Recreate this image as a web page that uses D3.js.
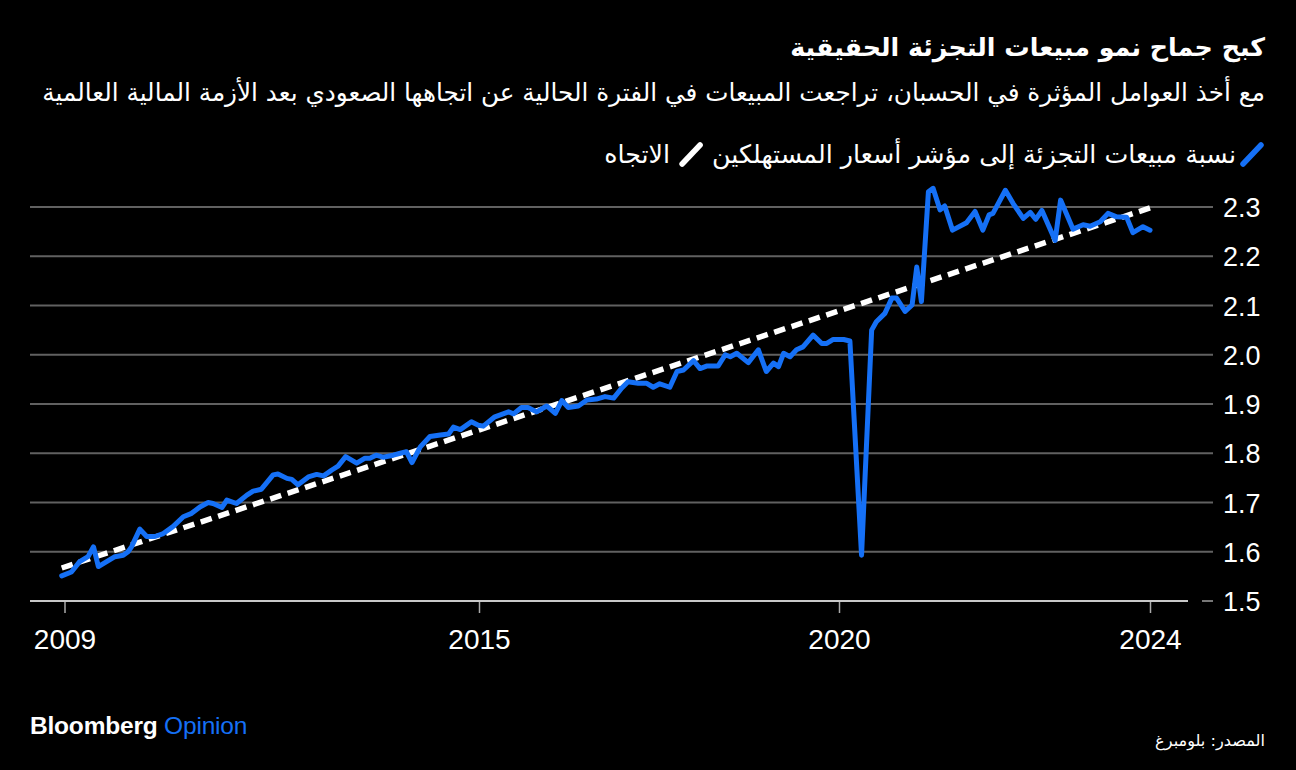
<!DOCTYPE html>
<html lang="ar">
<head>
<meta charset="utf-8">
<script src="https://cdn.jsdelivr.net/npm/d3@7/dist/d3.min.js"></script>
<style>
  html, body { margin: 0; padding: 0; background: #000; }
  svg { display: block; }
</style>
</head>
<body>
<svg id="chart" width="1296" height="770"></svg>
<script>
// ---------------- data ----------------
const titleText = "كبح جماح نمو مبيعات التجزئة الحقيقية";
const subtitleText = "مع أخذ العوامل المؤثرة في الحسبان، تراجعت المبيعات في الفترة الحالية عن اتجاهها الصعودي بعد الأزمة المالية العالمية";
const seriesNames = ["نسبة مبيعات التجزئة إلى مؤشر أسعار المستهلكين", "الاتجاه"];
const sourceText = "المصدر: بلومبرغ";

const xTickValues = [2009, 2015, 2020, 2024];
const yTickValues = [1.5, 1.6, 1.7, 1.8, 1.9, 2.0, 2.1, 2.2, 2.3];

const years = [2008.96, 2009.10, 2009.22, 2009.34, 2009.42, 2009.49, 2009.61, 2009.73, 2009.85, 2009.92, 2009.97,
  2010.09, 2010.19, 2010.31, 2010.43, 2010.57, 2010.72, 2010.84, 2010.96, 2011.08, 2011.15, 2011.28, 2011.35,
  2011.49, 2011.64, 2011.73, 2011.85, 2012.02, 2012.09, 2012.22, 2012.29, 2012.38, 2012.53, 2012.65, 2012.75,
  2012.87, 2012.96, 2013.07, 2013.23, 2013.35, 2013.42, 2013.51, 2013.61, 2013.76, 2013.86, 2013.95, 2014.03,
  2014.15, 2014.29, 2014.44, 2014.56, 2014.63, 2014.73, 2014.89, 2014.99, 2015.06, 2015.22, 2015.41, 2015.48,
  2015.59, 2015.68, 2015.80, 2015.94, 2016.06, 2016.15, 2016.24, 2016.38, 2016.50, 2016.63, 2016.75, 2016.87,
  2016.98, 2017.07, 2017.21, 2017.33, 2017.42, 2017.51, 2017.65, 2017.75, 2017.84, 2017.98, 2018.07, 2018.16,
  2018.32, 2018.42, 2018.49, 2018.58, 2018.74, 2018.88, 2018.99, 2019.09, 2019.16, 2019.23, 2019.32, 2019.41,
  2019.50, 2019.64, 2019.76, 2019.83, 2019.92, 2020.06, 2020.14, 2020.29, 2020.42, 2020.48, 2020.59, 2020.68,
  2020.74, 2020.85, 2020.94, 2021.00, 2021.06, 2021.15, 2021.21, 2021.30, 2021.36, 2021.46, 2021.64, 2021.75,
  2021.85, 2021.93, 2021.98, 2022.14, 2022.24, 2022.37, 2022.46, 2022.53, 2022.61, 2022.78, 2022.85, 2023.01,
  2023.14, 2023.23, 2023.36, 2023.46, 2023.57, 2023.70, 2023.78, 2023.91, 2024.00];

const salesToCpi = [1.551, 1.559, 1.580, 1.590, 1.610, 1.570, 1.580, 1.590, 1.593, 1.600, 1.610,
  1.646, 1.631, 1.631, 1.637, 1.651, 1.671, 1.678, 1.691, 1.700, 1.698, 1.690, 1.705,
  1.698, 1.715, 1.723, 1.727, 1.756, 1.758, 1.749, 1.747, 1.736, 1.752, 1.757, 1.754,
  1.766, 1.774, 1.793, 1.780, 1.790, 1.790, 1.796, 1.792, 1.796, 1.800, 1.803, 1.781,
  1.813, 1.834, 1.837, 1.839, 1.853, 1.848, 1.864, 1.857, 1.855, 1.874, 1.884, 1.880,
  1.893, 1.893, 1.884, 1.896, 1.881, 1.907, 1.893, 1.896, 1.908, 1.910, 1.915, 1.912,
  1.932, 1.945, 1.942, 1.942, 1.934, 1.941, 1.934, 1.966, 1.969, 1.988, 1.972, 1.977,
  1.977, 2.000, 1.996, 2.003, 1.984, 2.010, 1.966, 1.983, 1.976, 2.003, 1.996, 2.010,
  2.016, 2.040, 2.023, 2.023, 2.031, 2.031, 2.028, 1.593, 2.050, 2.067, 2.084, 2.115,
  2.115, 2.088, 2.101, 2.178, 2.108, 2.331, 2.338, 2.294, 2.302, 2.253, 2.268, 2.291,
  2.253, 2.284, 2.287, 2.334, 2.307, 2.277, 2.289, 2.275, 2.293, 2.232, 2.314, 2.255,
  2.264, 2.261, 2.270, 2.287, 2.280, 2.279, 2.248, 2.260, 2.253];

const trendYears = [2008.96, 2024.00];
const trendValues = [1.567, 2.298];

// ---------------- layout ----------------
const W = 1296, H = 770;
const BLUE = "#1570f6";
const svg = d3.select("#chart");
svg.append("rect").attr("width", W).attr("height", H).attr("fill", "#000");

// x axis: tick positions on the original are unevenly spaced
const x = d3.scaleLinear().domain(xTickValues).range([64.5, 479, 839, 1150]);
const y = d3.scaleLinear().domain([1.5, 2.3]).range([601, 207]);

const gridLeft = 30, gridRight = 1213;

// grid lines
svg.append("g").selectAll("line")
  .data(yTickValues.filter(v => v > 1.5))
  .join("line")
  .attr("x1", gridLeft).attr("x2", gridRight)
  .attr("y1", d => y(d)).attr("y2", d => y(d))
  .attr("stroke", "#616161").attr("stroke-width", 2);

// baseline
svg.append("line")
  .attr("x1", gridLeft).attr("x2", 1188)
  .attr("y1", y(1.5)).attr("y2", y(1.5))
  .attr("stroke", "#c8c8c8").attr("stroke-width", 2);
svg.append("line")
  .attr("x1", 1202).attr("x2", gridRight)
  .attr("y1", y(1.5)).attr("y2", y(1.5))
  .attr("stroke", "#777").attr("stroke-width", 2);

// y axis labels
const yAxis = d3.axisRight(y).tickValues(yTickValues).tickFormat(d3.format(".1f")).tickSize(0).tickPadding(0);
const yg = svg.append("g").attr("transform", `translate(1223,0)`).call(yAxis);
yg.select(".domain").remove();
yg.selectAll("text")
  .attr("fill", "#fff")
  .attr("font-family", "Liberation Sans, Arial, sans-serif")
  .attr("font-size", 27)
  .attr("dy", "0.36em");

// x axis
const xAxis = d3.axisBottom(x).tickValues(xTickValues).tickFormat(d3.format("d")).tickSize(11).tickPadding(16);
const xg = svg.append("g").attr("transform", `translate(0,${y(1.5) + 1})`).call(xAxis);
xg.select(".domain").remove();
xg.selectAll(".tick line").attr("stroke", "#aaa").attr("stroke-width", 1.5);
xg.selectAll("text")
  .attr("fill", "#fff")
  .attr("font-family", "Liberation Sans, Arial, sans-serif")
  .attr("font-size", 28);

// trend line (dash pattern fitted so both ends finish with a dash)
const trendData = trendYears.map((t, i) => ({ t, v: trendValues[i] }));
const trendPath = svg.append("path")
  .datum(trendData)
  .attr("d", d3.line().x(d => x(d.t)).y(d => y(d.v)))
  .attr("fill", "none")
  .attr("stroke", "#fff")
  .attr("stroke-width", 5.5);
{
  const L = trendPath.node().getTotalLength();
  const dash0 = 11.5, gap0 = 6.7, P0 = dash0 + gap0;
  const n = Math.round((L - dash0) / P0);
  const P = (L - dash0) / n;
  trendPath.attr("stroke-dasharray", `${dash0} ${P - dash0}`);
}

// main series
const series = years.map((t, i) => ({ t, v: salesToCpi[i] }));
svg.append("path")
  .datum(series)
  .attr("d", d3.line().x(d => x(d.t)).y(d => y(d.v)))
  .attr("fill", "none")
  .attr("stroke", BLUE)
  .attr("stroke-width", 5)
  .attr("stroke-linejoin", "round")
  .attr("stroke-linecap", "round");

// ---------------- texts ----------------
const AR = "DejaVu Sans, Noto Sans, sans-serif";
function fit(sel, target) {
  const fs = +sel.attr("font-size");
  const w = sel.node().getComputedTextLength();
  if (w > 0) sel.attr("font-size", fs * target / w);
  return sel;
}
function rtlText(xr, yb, txt, size, weight) {
  return svg.append("text")
    .attr("x", xr).attr("y", yb)
    .attr("direction", "rtl")
    .attr("text-anchor", "start")
    .attr("font-family", AR)
    .attr("font-size", size)
    .attr("font-weight", weight || 400)
    .attr("fill", "#fff")
    .text(txt);
}

fit(rtlText(1265, 56, titleText, 30, 700), 475);
fit(rtlText(1265, 101, subtitleText, 22, 400), 1223);

// legend (right to left)
const legY = 163;
svg.append("line")
  .attr("x1", 1243).attr("y1", 164).attr("x2", 1261).attr("y2", 145)
  .attr("stroke", BLUE).attr("stroke-width", 5.5).attr("stroke-linecap", "round");
const leg1 = fit(rtlText(1236, legY, seriesNames[0], 22, 400), 524);
const legFs = +leg1.attr("font-size");
const leg1W = leg1.node().getComputedTextLength();
const icon2R = 1236 - leg1W - 12;
svg.append("line")
  .attr("x1", icon2R - 18).attr("y1", 164).attr("x2", icon2R).attr("y2", 145)
  .attr("stroke", "#fff").attr("stroke-width", 5.5).attr("stroke-linecap", "round");
rtlText(icon2R - 30, legY, seriesNames[1], legFs, 400);

// footer
const brand = svg.append("text")
  .attr("x", 30).attr("y", 734)
  .attr("font-family", "Liberation Sans, Arial, sans-serif")
  .attr("font-size", 24.5)
  .attr("letter-spacing", -0.2);
brand.append("tspan").attr("fill", "#fff").attr("font-weight", 700).text("Bloomberg");
brand.append("tspan").attr("fill", BLUE).attr("font-weight", 400).text(" Opinion");

fit(rtlText(1265, 746, sourceText, 16, 400), 110);
</script>
</body>
</html>
